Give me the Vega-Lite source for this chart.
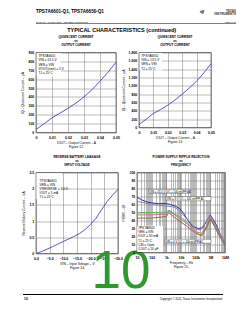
{
  "$schema": "https://vega.github.io/schema/vega-lite/v6.json",
  "padding": {"left": 20, "top": 9, "right": 0, "bottom": 0},
  "background": "white",
  "config": {
    "font": "Liberation Sans",
    "view": {"stroke": "#000", "strokeWidth": 0.6},
    "axis": {"tickCount": 100, "labelFontSize": 3.5, "labelFontWeight": "bold", "labelColor": "#000", "titleFontSize": 3.3, "titleColor": "#000", "titleFontWeight": "normal", "ticks": false, "domain": false, "gridColor": "#777", "gridWidth": 0.5, "gridOpacity": 1, "labelPadding": 2.2, "labelFlush": false, "labelOverlap": false, "titleLineHeight": 4.6},
    "axisY": {"titlePadding": 3},
    "axisX": {"titlePadding": 1.5, "labelPadding": 2.5},
    "title": {"fontSize": 3.2, "fontWeight": "bold", "lineHeight": 4.1, "offset": 4, "color": "#000"},
    "text": {"color": "#000"}
  },
  "spacing": 3.5,
  "vconcat": [
    {
      "width": 200,
      "height": 14.5,
      "view": {"stroke": null},
      "layer": [
        {
          "data": {"values": [{"t": "TPS7A6601-Q1, TPS7A6650-Q1"}]},
          "mark": {"type": "text", "align": "left", "baseline": "top", "fontSize": 4.6, "fontWeight": "bold"},
          "encoding": {
            "x": {"datum": 0, "type": "quantitative", "scale": {"domain": [0, 1]}, "axis": null},
            "y": {"datum": 1, "type": "quantitative", "scale": {"domain": [0, 1]}, "axis": null},
            "text": {"field": "t"}
          }
        },
        {
          "data": {"values": [{"t": ["TEXAS", "INSTRUMENTS"]}]},
          "mark": {"type": "text", "align": "right", "baseline": "top", "fontSize": 3, "lineHeight": 3.4, "fontWeight": "bold", "color": "#333"},
          "encoding": {
            "x": {"datum": 1, "type": "quantitative", "axis": null},
            "y": {"datum": 0.95, "type": "quantitative", "axis": null},
            "text": {"field": "t"}
          }
        },
        {
          "data": {"values": [{}]},
          "mark": {"type": "point", "filled": true, "color": "#444", "size": 18, "shape": "M-1,-0.7L-0.1,-0.7L-0.1,-1L1,-1L1,0.2L0.3,1L-0.3,0.4L-1,0.2Z"},
          "encoding": {
            "x": {"datum": 0.83, "type": "quantitative", "axis": null},
            "y": {"datum": 0.78, "type": "quantitative", "axis": null}
          }
        },
        {
          "data": {"values": [{"t": "SLVSAK8 – MARCH 2011 – REVISED AUGUST 2011"}]},
          "mark": {"type": "text", "align": "left", "baseline": "bottom", "fontSize": 2.2},
          "encoding": {
            "x": {"datum": 0, "type": "quantitative", "axis": null},
            "y": {"datum": 0.05, "type": "quantitative", "axis": null},
            "text": {"field": "t"}
          }
        },
        {
          "data": {"values": [{"t": "www.ti.com"}]},
          "mark": {"type": "text", "align": "right", "baseline": "bottom", "fontSize": 2.2},
          "encoding": {
            "x": {"datum": 1, "type": "quantitative", "axis": null},
            "y": {"datum": 0.05, "type": "quantitative", "axis": null},
            "text": {"field": "t"}
          }
        },
        {
          "data": {"values": [{}]},
          "mark": {"type": "rule", "strokeWidth": 0.5, "color": "#000"},
          "encoding": {
            "x": {"datum": 0, "type": "quantitative", "axis": null},
            "x2": {"datum": 1},
            "y": {"datum": 0, "type": "quantitative", "axis": null}
          }
        }
      ]
    },
    {
      "spacing": 6,
      "vconcat": [
        {
          "title": {"text": "TYPICAL CHARACTERISTICS (continued)", "fontSize": 5.5, "fontWeight": "bold", "anchor": "middle", "offset": 1, "dx": 4},
          "spacing": 23,
          "bounds": "flush",
          "hconcat": [
            {
              "width": 80,
              "height": 80,
              "title": {"text": ["QUIESCENT CURRENT", "vs", "OUTPUT CURRENT"]},
              "layer": [
                {
                  "data": {"values": [
                    {"current": 0, "iq": 34}, {"current": 0.005, "iq": 98}, {"current": 0.01, "iq": 165},
                    {"current": 0.015, "iq": 218}, {"current": 0.02, "iq": 272}, {"current": 0.025, "iq": 332},
                    {"current": 0.03, "iq": 400}, {"current": 0.035, "iq": 482}, {"current": 0.04, "iq": 577},
                    {"current": 0.045, "iq": 678}, {"current": 0.05, "iq": 790}
                  ]},
                  "mark": {"type": "line", "color": "#4646a8", "strokeWidth": 0.9},
                  "encoding": {
                    "x": {"field": "current", "type": "quantitative", "scale": {"domain": [0, 0.05], "nice": false},
                      "axis": {"tickCount": 100, "values": [0, 0.01, 0.02, 0.03, 0.04, 0.05], "labelExpr": "datum.value == 0 ? '0' : format(datum.value, '.2f')", "title": ["IOUT – Output Current – A", "Figure 12."]}},
                    "y": {"field": "iq", "type": "quantitative", "scale": {"domain": [0, 900], "nice": false},
                      "axis": {"tickCount": 100, "values": [0, 100, 200, 300, 400, 500, 600, 700, 800, 900], "title": "IQ – Quiescent Current – µA"}}
                  }
                },
                {
                  "data": {"values": [{}]},
                  "mark": {"type": "rect", "fill": "white"},
                  "encoding": {"x": {"datum": 0.0004, "type": "quantitative"}, "x2": {"datum": 0.0155}, "y": {"datum": 895, "type": "quantitative"}, "y2": {"datum": 630}}
                },
                {
                  "data": {"values": [{"lines": ["TPS7A6601", "VIN = 13.5 V", "VEN = VIN", "VOUT(nom) = 5 V", "TJ = 25°C"]}]},
                  "mark": {"type": "text", "align": "left", "baseline": "top", "fontSize": 3.2, "lineHeight": 4.2},
                  "encoding": {"x": {"datum": 0.0015, "type": "quantitative"}, "y": {"datum": 880, "type": "quantitative"}, "text": {"field": "lines"}}
                }
              ]
            },
            {
              "width": 72,
              "height": 75,
              "title": {"text": ["QUIESCENT CURRENT", "vs", "OUTPUT CURRENT"]},
              "layer": [
                {
                  "data": {"values": [
                    {"current": 0, "iq": 72}, {"current": 0.005, "iq": 200}, {"current": 0.01, "iq": 336},
                    {"current": 0.015, "iq": 430}, {"current": 0.02, "iq": 535}, {"current": 0.025, "iq": 660},
                    {"current": 0.03, "iq": 800}, {"current": 0.035, "iq": 950}, {"current": 0.04, "iq": 1111},
                    {"current": 0.045, "iq": 1310}, {"current": 0.05, "iq": 1530}
                  ]},
                  "mark": {"type": "line", "color": "#4646a8", "strokeWidth": 0.9},
                  "encoding": {
                    "x": {"field": "current", "type": "quantitative", "scale": {"domain": [0, 0.05], "nice": false},
                      "axis": {"tickCount": 100, "values": [0, 0.01, 0.02, 0.03, 0.04, 0.05], "labelExpr": "datum.value == 0 ? '0' : format(datum.value, '.2f')", "title": ["IOUT – Output Current – A", "Figure 13."]}},
                    "y": {"field": "iq", "type": "quantitative", "scale": {"domain": [0, 1800], "nice": false},
                      "axis": {"tickCount": 100, "values": [0, 200, 400, 600, 800, 1000, 1200, 1400, 1600, 1800], "title": "IQ – Quiescent Current – µA"}}
                  }
                },
                {
                  "data": {"values": [{}]},
                  "mark": {"type": "rect", "fill": "white"},
                  "encoding": {"x": {"datum": 0.0004, "type": "quantitative"}, "x2": {"datum": 0.016}, "y": {"datum": 1790, "type": "quantitative"}, "y2": {"datum": 1370}}
                },
                {
                  "data": {"values": [{"lines": ["TPS7A6650", "VIN = 13.5 V", "VEN = VIN", "TJ = 25°C"]}]},
                  "mark": {"type": "text", "align": "left", "baseline": "top", "fontSize": 3.2, "lineHeight": 4.2},
                  "encoding": {"x": {"datum": 0.0015, "type": "quantitative"}, "y": {"datum": 1765, "type": "quantitative"}, "text": {"field": "lines"}}
                }
              ]
            }
          ]
        },
        {
          "spacing": 19,
          "bounds": "flush",
          "hconcat": [
            {
              "width": 82,
              "height": 81,
              "title": {"text": ["REVERSE BATTERY LEAKAGE", "vs", "INPUT VOLTAGE"], "frame": "group"},
              "layer": [
                {
                  "data": {"values": [
                    {"vin": 0, "leak": 0}, {"vin": -2, "leak": 0.06}, {"vin": -4, "leak": 0.13}, {"vin": -6, "leak": 0.21},
                    {"vin": -8, "leak": 0.29}, {"vin": -10, "leak": 0.37}, {"vin": -12, "leak": 0.45}, {"vin": -14, "leak": 0.53},
                    {"vin": -16, "leak": 0.62}, {"vin": -18, "leak": 0.74}, {"vin": -20, "leak": 0.9}, {"vin": -22, "leak": 1.09},
                    {"vin": -24, "leak": 1.35}, {"vin": -26, "leak": 1.6}, {"vin": -28, "leak": 1.8}, {"vin": -30, "leak": 1.98}
                  ]},
                  "mark": {"type": "line", "color": "#4646a8", "strokeWidth": 0.9},
                  "encoding": {
                    "x": {"field": "vin", "type": "quantitative", "scale": {"domain": [0, -30], "nice": false},
                      "axis": {"tickCount": 100, "values": [0, -5, -10, -15, -20, -25, -30], "title": ["VIN – Input Voltage – V", "Figure 14."]}},
                    "y": {"field": "leak", "type": "quantitative", "scale": {"domain": [0, 2.5], "nice": false},
                      "axis": {"tickCount": 100, "values": [0, 0.5, 1, 1.5, 2, 2.5], "format": "~g", "title": "Reverse Battery Current – mA"}}
                  }
                },
                {
                  "data": {"values": [{}]},
                  "mark": {"type": "rect", "fill": "white"},
                  "encoding": {"x": {"datum": -0.15, "type": "quantitative"}, "x2": {"datum": -9.5}, "y": {"datum": 2.48, "type": "quantitative"}, "y2": {"datum": 1.68}}
                },
                {
                  "data": {"values": [{"lines": ["TPS7A6601", "VEN = VIN", "VREVERSE = 3.0 V", "IOUT = 5 mA", "TJ = 25°C"]}]},
                  "mark": {"type": "text", "align": "left", "baseline": "top", "fontSize": 3.2, "lineHeight": 4.1},
                  "encoding": {"x": {"datum": -1.3, "type": "quantitative"}, "y": {"datum": 2.3, "type": "quantitative"}, "text": {"field": "lines"}}
                },
                {
                  "data": {"values": [{}]},
                  "mark": {"type": "rule", "strokeWidth": 1, "color": "#000"},
                  "encoding": {"x": {"datum": 4.756, "type": "quantitative"}, "x2": {"datum": -68.41}, "y": {"datum": -1.2654, "type": "quantitative"}}
                },
                {
                  "data": {"values": [{"t": "10"}]},
                  "mark": {"type": "text", "align": "left", "baseline": "middle", "fontSize": 3.4, "fontWeight": "bold"},
                  "encoding": {"x": {"datum": 4.39, "type": "quantitative"}, "y": {"datum": -1.389, "type": "quantitative"}, "text": {"field": "t"}}
                },
                {
                  "data": {"values": [{"t": "Copyright © 2011, Texas Instruments Incorporated"}]},
                  "mark": {"type": "text", "align": "right", "baseline": "middle", "fontSize": 2.8},
                  "encoding": {"x": {"datum": -68.05, "type": "quantitative"}, "y": {"datum": -1.389, "type": "quantitative"}, "text": {"field": "t"}}
                },
                {
                  "data": {"values": [{"page": "10"}]},
                  "mark": {"type": "text", "align": "center", "baseline": "alphabetic", "fontSize": 53, "color": "#2e9a2e"},
                  "encoding": {"x": {"datum": -31.1, "type": "quantitative"}, "y": {"datum": -1.08, "type": "quantitative"}, "text": {"field": "page"}}
                }
              ]
            },
            {
              "width": 88,
              "height": 80,
              "title": {"text": ["POWER SUPPLY RIPPLE REJECTION", "vs", "FREQUENCY"]},
              "layer": [
                {
                  "data": {"values": [
                    {"s": "a", "f": 10, "db": 69}, {"s": "a", "f": 20, "db": 66}, {"s": "a", "f": 50, "db": 63}, {"s": "a", "f": 100, "db": 62},
                    {"s": "a", "f": 300, "db": 61}, {"s": "a", "f": 1000, "db": 61}, {"s": "a", "f": 2000, "db": 60}, {"s": "a", "f": 4000, "db": 58},
                    {"s": "a", "f": 8000, "db": 55}, {"s": "a", "f": 15000, "db": 49}, {"s": "a", "f": 30000, "db": 40}, {"s": "a", "f": 60000, "db": 32.5},
                    {"s": "a", "f": 150000, "db": 30}, {"s": "a", "f": 300000, "db": 31}, {"s": "a", "f": 600000, "db": 40}, {"s": "a", "f": 1000000, "db": 47},
                    {"s": "a", "f": 1500000, "db": 42}, {"s": "a", "f": 2500000, "db": 35}, {"s": "a", "f": 5000000, "db": 22}, {"s": "a", "f": 10000000, "db": 12},
                    {"s": "b", "f": 10, "db": 64}, {"s": "b", "f": 100, "db": 60}, {"s": "b", "f": 1000, "db": 58}, {"s": "b", "f": 3000, "db": 57},
                    {"s": "b", "f": 6000, "db": 54}, {"s": "b", "f": 10000, "db": 50}, {"s": "b", "f": 20000, "db": 44}, {"s": "b", "f": 50000, "db": 36},
                    {"s": "b", "f": 100000, "db": 30}, {"s": "b", "f": 200000, "db": 28}, {"s": "b", "f": 500000, "db": 38}, {"s": "b", "f": 1000000, "db": 46},
                    {"s": "b", "f": 2000000, "db": 36}, {"s": "b", "f": 5000000, "db": 22}, {"s": "b", "f": 10000000, "db": 12},
                    {"s": "c", "f": 10, "db": 50}, {"s": "c", "f": 100, "db": 50}, {"s": "c", "f": 500, "db": 50}, {"s": "c", "f": 1000, "db": 51},
                    {"s": "c", "f": 1500, "db": 53}, {"s": "c", "f": 2500, "db": 50}, {"s": "c", "f": 5000, "db": 47}, {"s": "c", "f": 20000, "db": 40},
                    {"s": "c", "f": 60000, "db": 30}, {"s": "c", "f": 150000, "db": 23}, {"s": "c", "f": 300000, "db": 22}, {"s": "c", "f": 600000, "db": 35},
                    {"s": "c", "f": 1000000, "db": 44}, {"s": "c", "f": 2000000, "db": 34}, {"s": "c", "f": 5000000, "db": 20}, {"s": "c", "f": 10000000, "db": 10},
                    {"s": "d", "f": 10, "db": 47}, {"s": "d", "f": 100, "db": 47}, {"s": "d", "f": 1000, "db": 48}, {"s": "d", "f": 1500, "db": 52},
                    {"s": "d", "f": 3000, "db": 48}, {"s": "d", "f": 10000, "db": 42}, {"s": "d", "f": 40000, "db": 33}, {"s": "d", "f": 100000, "db": 26},
                    {"s": "d", "f": 250000, "db": 24}, {"s": "d", "f": 600000, "db": 34}, {"s": "d", "f": 1000000, "db": 43}, {"s": "d", "f": 2000000, "db": 33},
                    {"s": "d", "f": 5000000, "db": 20}, {"s": "d", "f": 10000000, "db": 10},
                    {"s": "e", "f": 10, "db": 43}, {"s": "e", "f": 100, "db": 43}, {"s": "e", "f": 1000, "db": 45}, {"s": "e", "f": 1500, "db": 50},
                    {"s": "e", "f": 3000, "db": 45}, {"s": "e", "f": 10000, "db": 38}, {"s": "e", "f": 40000, "db": 30}, {"s": "e", "f": 100000, "db": 24},
                    {"s": "e", "f": 250000, "db": 21}, {"s": "e", "f": 600000, "db": 32}, {"s": "e", "f": 1000000, "db": 42}, {"s": "e", "f": 2000000, "db": 32},
                    {"s": "e", "f": 5000000, "db": 18}, {"s": "e", "f": 10000000, "db": 9}
                  ]},
                  "mark": {"type": "line", "strokeWidth": 1},
                  "encoding": {
                    "x": {"field": "f", "type": "quantitative", "scale": {"type": "log", "domain": [10, 10000000], "nice": false},
                      "axis": {"tickCount": 100, "values": [10, 20, 30, 40, 50, 60, 70, 80, 90, 100, 200, 300, 400, 500, 600, 700, 800, 900, 1000, 2000, 3000, 4000, 5000, 6000, 7000, 8000, 9000, 10000, 20000, 30000, 40000, 50000, 60000, 70000, 80000, 90000, 100000, 200000, 300000, 400000, 500000, 600000, 700000, 800000, 900000, 1000000, 2000000, 3000000, 4000000, 5000000, 6000000, 7000000, 8000000, 9000000, 10000000],
                        "labelExpr": "datum.value == 10 ? '10' : datum.value == 100 ? '100' : datum.value == 1000 ? '1k' : datum.value == 10000 ? '10k' : datum.value == 100000 ? '100k' : datum.value == 1000000 ? '1M' : datum.value == 10000000 ? '10M' : ''",
                        "title": ["Frequency – Hz", "Figure 15."]}},
                    "y": {"field": "db", "type": "quantitative", "scale": {"domain": [0, 100], "nice": false},
                      "axis": {"tickCount": 100, "values": [0, 10, 20, 30, 40, 50, 60, 70, 80, 90, 100], "title": "PSRR – dB"}},
                    "color": {"field": "s", "type": "nominal", "legend": null, "scale": {"domain": ["a", "b", "c", "d", "e"], "range": ["#27318a", "#8b7fc7", "#5cb85c", "#d06a8c", "#8b6b3a"]}}
                  }
                },
                {
                  "data": {"values": [{}]},
                  "mark": {"type": "rect", "fill": "white"},
                  "encoding": {"x": {"datum": 10.4, "type": "quantitative"}, "x2": {"datum": 600}, "y": {"datum": 33.5, "type": "quantitative"}, "y2": {"datum": 0.6}}
                },
                {
                  "data": {"values": [{"lines": ["TPS7A6601", "VEN = VIN", "IOUT = 50 mA", "TJ = 25°C", "CIN = Open", "COUT = 10 µF"]}]},
                  "mark": {"type": "text", "align": "left", "baseline": "top", "fontSize": 3.1, "lineHeight": 4.3},
                  "encoding": {"x": {"datum": 12, "type": "quantitative"}, "y": {"datum": 32, "type": "quantitative"}, "text": {"field": "lines"}}
                },
                {
                  "data": {"values": [
                    {"x1": 63, "x2": 39000, "y1": 74, "y2": 79},
                    {"x1": 950, "x2": 1100000, "y1": 64.6, "y2": 70},
                    {"x1": 770, "x2": 1100000, "y1": 11.6, "y2": 16.6}
                  ]},
                  "mark": {"type": "rect", "fill": "white", "stroke": "#000", "strokeWidth": 0.35},
                  "encoding": {"x": {"field": "x1", "type": "quantitative"}, "x2": {"field": "x2"}, "y": {"field": "y1", "type": "quantitative"}, "y2": {"field": "y2"}}
                },
                {
                  "data": {"values": [
                    {"x1": 70, "ym": 76.5, "t": "VIN = 13.5 V DC + 100 mVPP AC"},
                    {"x1": 1050, "ym": 67.3, "t": "VIN = 8 V DC + 100 mVPP AC"},
                    {"x1": 860, "ym": 14.1, "t": "VIN = 6 V DC + 100 mVPP AC"}
                  ]},
                  "mark": {"type": "text", "align": "left", "baseline": "middle", "fontSize": 2.8},
                  "encoding": {"x": {"field": "x1", "type": "quantitative"}, "y": {"field": "ym", "type": "quantitative"}, "text": {"field": "t"}}
                }
              ]
            }
          ]
        }
      ]
    }
  ]
}
